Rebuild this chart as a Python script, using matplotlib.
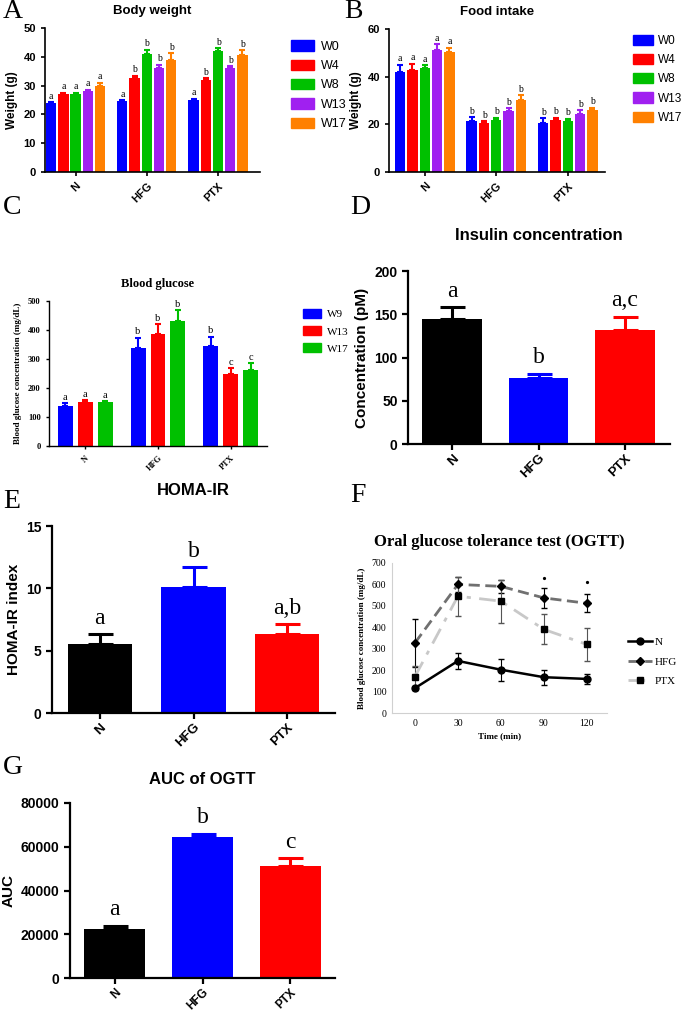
import numpy as np
import matplotlib
matplotlib.use('Agg')
import matplotlib.pyplot as plt
from matplotlib.patches import Patch
from matplotlib.lines import Line2D

SANS = 'Liberation Sans'
SERIF = 'Liberation Serif'

groups = ['N', 'HFG', 'PTX']

# A - body weight
bw_weeks = ['W0', 'W4', 'W8', 'W13', 'W17']
bw_mean = [[24, 24.5, 25], [27, 32.5, 32], [27, 41, 42], [28, 36, 36], [30, 38.8, 40.5]]
bw_err = [[0.3, 0.5, 0.5], [0.5, 1.0, 0.5], [0.5, 1.5, 1.0], [0.6, 1.3, 0.8], [1.0, 2.5, 1.8]]
bw_sig = [['a', 'a', 'a'], ['a', 'b', 'b'], ['a', 'b', 'b'], ['a', 'b', 'b'], ['a', 'b', 'b']]

# B - food intake
fi_mean = [[42, 21.5, 20.5], [43, 20.5, 22], [43.5, 22, 21.5], [51, 25.5, 24.5], [50.3, 30, 26]]
fi_err = [[3, 1.5, 2], [2.5, 0.8, 0.8], [1.2, 0.8, 0.8], [2.5, 1.3, 1.5], [1.8, 2.2, 1.0]]
fi_sig = [['a', 'b', 'b'], ['a', 'b', 'b'], ['a', 'b', 'b'], ['a', 'b', 'b'], ['a', 'b', 'b']]

# C - blood glucose
bg_weeks = ['W9', 'W13', 'W17']
bg_mean = [[138, 338, 345], [152, 385, 248], [150, 430, 262]]
bg_err = [[10, 35, 32], [5, 35, 20], [5, 38, 24]]
bg_sig = [['a', 'b', 'b'], ['a', 'b', 'c'], ['a', 'b', 'c']]

# D - insulin
ins_mean = [144, 76, 132]
ins_err = [14, 5, 15]
ins_sig = ['a', 'b', 'a,c']

# E - HOMA-IR
homa_mean = [5.5, 10.1, 6.3]
homa_err = [0.8, 1.6, 0.8]
homa_sig = ['a', 'b', 'a,b']

# F - OGTT
ogtt_time = [0, 30, 60, 90, 120]
ogtt_n = [116, 243, 202, 167, 159]
ogtt_n_err = [10, 38, 52, 35, 25]
ogtt_hfg = [327, 600, 591, 537, 512]
ogtt_hfg_err = [110, 37, 30, 45, 42]
ogtt_ptx = [170, 545, 522, 390, 320]
ogtt_ptx_err = [48, 92, 100, 70, 75]
ogtt_star_time = [90, 120]
ogtt_star_y = [628, 612]

# G - AUC
auc_mean = [22500, 64500, 51000]
auc_err = [1500, 1500, 3800]
auc_sig = ['a', 'b', 'c']

W, H = 685, 1013
fig = plt.figure(figsize=(W / 100, H / 100), dpi=100)


def box(x0, x1, y0, y1):
    # pixel box -> figure fraction
    return [x0 / W, 1 - y1 / H, (x1 - x0) / W, (y1 - y0) / H]


def style_axes(ax, lw=1.5):
    for s in ['top', 'right']:
        ax.spines[s].set_visible(False)
    for s in ['left', 'bottom']:
        ax.spines[s].set_linewidth(lw)
    ax.tick_params(width=lw, length=4)


def panel_letter(x, y, s):
    fig.text(x / W, 1 - y / H, s, fontsize=20, family=SERIF, va='center', ha='left')


def grouped(ax, means, errs, sigs, colors, width, pitch, sig_size, font, tick_size, sig_pad):
    n = len(means)
    x = np.arange(len(groups))
    for i in range(n):
        xi = x + (i - (n - 1) / 2) * pitch
        ax.bar(xi, means[i], width, color=colors[i], zorder=2)
        ax.errorbar(xi, means[i], yerr=[np.zeros(3), errs[i]], fmt='none',
                    ecolor=colors[i], elinewidth=1.5, capsize=2.5, capthick=1.5, zorder=1)
        for j in range(3):
            ax.annotate(sigs[i][j], (xi[j], means[i][j] + errs[i][j]), xytext=(0, sig_pad),
                        textcoords='offset points', ha='center', va='bottom',
                        fontsize=sig_size, family=SERIF)
    ax.set_xticks(x)
    ax.set_xticklabels(groups, rotation=45, ha='right', rotation_mode='anchor',
                       fontsize=tick_size, family=font, fontweight='bold')


def single(ax, means, errs, sigs, ylim, yticks, ylabel, title, xlim, width=0.69):
    x = np.arange(3)
    colors = ['black', '#0000ff', '#ff0000']
    ax.bar(x, means, width, color=colors, zorder=2)
    for j in range(3):
        ax.errorbar(x[j], means[j], yerr=[[0], [errs[j]]], fmt='none', ecolor=colors[j],
                    elinewidth=2.2, capsize=9, capthick=2.2, zorder=1)
        ax.annotate(sigs[j], (x[j], means[j] + errs[j]), xytext=(0, 4), textcoords='offset points',
                    ha='center', va='bottom', fontsize=17, family=SERIF)
    ax.set_xlim(*xlim)
    ax.set_ylim(*ylim)
    ax.set_yticks(yticks)
    ax.set_xticks(x)
    ax.set_xticklabels(groups, rotation=45, ha='right', rotation_mode='anchor',
                       fontsize=9.5, family=SANS, fontweight='bold')
    for t in ax.get_yticklabels():
        t.set_family(SANS)
        t.set_fontweight('bold')
        t.set_fontsize(10)
    ax.set_ylabel(ylabel, fontsize=11, family=SANS, fontweight='bold')
    ax.set_title(title, fontsize=12, family=SANS, fontweight='bold', pad=22)
    style_axes(ax, 1.6)
    ax.tick_params(axis='x', pad=2)


wk_colors = ['#0000ff', '#ff0000', '#00c000', '#a020f0', '#ff8000']

# ---- A
axA = fig.add_axes(box(45, 260, 28, 172))
grouped(axA, bw_mean, bw_err, bw_sig, wk_colors, 0.145, 0.172, 7, SANS, 8, 1)
axA.set_xlim(-0.43, 2.59)
axA.set_ylim(0, 50)
axA.set_yticks([0, 10, 20, 30, 40, 50])
for t in axA.get_yticklabels():
    t.set_family(SANS); t.set_fontweight('bold'); t.set_fontsize(8)
axA.set_ylabel('Weight (g)', fontsize=8.5, family=SANS, fontweight='bold')
axA.set_title('Body weight', fontsize=9.5, family=SANS, fontweight='bold', pad=10)
style_axes(axA, 1.2)
axA.tick_params(length=3)
fig.legend([Patch(color=c) for c in wk_colors], bw_weeks, loc='upper left',
           bbox_to_anchor=(280 / W, 1 - 29 / H), frameon=False, prop={'family': SANS, 'size': 9},
           handlelength=1.8, handleheight=0.9, labelspacing=0.55, handletextpad=0.6)
panel_letter(3, 12, 'A')

# ---- B
axB = fig.add_axes(box(389, 605, 29, 172))
grouped(axB, fi_mean, fi_err, fi_sig, wk_colors, 0.145, 0.172, 7, SANS, 8, 1)
axB.set_xlim(-0.5, 2.52)
axB.set_ylim(0, 60)
axB.set_yticks([0, 20, 40, 60])
for t in axB.get_yticklabels():
    t.set_family(SANS); t.set_fontweight('bold'); t.set_fontsize(8)
axB.set_ylabel('Weight (g)', fontsize=8.5, family=SANS, fontweight='bold')
axB.set_title('Food intake', fontsize=9.5, family=SANS, fontweight='bold', pad=10)
style_axes(axB, 1.2)
axB.tick_params(length=3)
fig.legend([Patch(color=c) for c in wk_colors], bw_weeks, loc='upper left',
           bbox_to_anchor=(628 / W, 1 - 30 / H), frameon=False, prop={'family': SANS, 'size': 8.5},
           handlelength=1.7, handleheight=0.95, labelspacing=0.6, handletextpad=0.4,
           borderaxespad=0.2, borderpad=0.2)
panel_letter(344, 12, 'B')

# ---- C
axC = fig.add_axes(box(49, 267, 301, 446))
grouped(axC, bg_mean, bg_err, bg_sig, wk_colors[:3], 0.206, 0.275, 7.5, SERIF, 6, 1)
axC.set_xlim(-0.5, 2.5)
axC.set_ylim(0, 500)
axC.set_yticks([0, 100, 200, 300, 400, 500])
for t in axC.get_yticklabels():
    t.set_family(SERIF); t.set_fontweight('bold'); t.set_fontsize(6)
axC.set_ylabel('Blood glucose concentration (mg/dL)', fontsize=6.5, family=SERIF, fontweight='bold')
axC.set_title('Blood glucose', fontsize=9, family=SERIF, fontweight='bold', pad=10)
style_axes(axC, 1.0)
axC.tick_params(length=2.5)
fig.legend([Patch(color=c) for c in wk_colors[:3]], bg_weeks, loc='upper left',
           bbox_to_anchor=(293 / W, 1 - 299 / H), frameon=False, prop={'family': SERIF, 'size': 8},
           handlelength=1.6, handleheight=0.9, labelspacing=0.6, handletextpad=0.6)
panel_letter(3, 208, 'C')

# ---- D
axD = fig.add_axes(box(408, 670, 271, 444))
single(axD, ins_mean, ins_err, ins_sig, (0, 200), [0, 50, 100, 150, 200],
       'Concentration (pM)', 'Insulin concentration', (-0.51, 2.52))
panel_letter(350, 208, 'D')

# ---- E
axE = fig.add_axes(box(52, 335, 526, 713))
single(axE, homa_mean, homa_err, homa_sig, (0, 15), [0, 5, 10, 15],
       'HOMA-IR index', 'HOMA-IR', (-0.51, 2.51), width=0.685)
panel_letter(3, 502, 'E')

# ---- F
axF = fig.add_axes(box(392, 607, 563, 713))
axF.errorbar(ogtt_time, ogtt_n, yerr=ogtt_n_err, color='black', lw=1.8, marker='o', ms=5,
             mfc='black', mec='black', ecolor='black', elinewidth=0.8, capsize=2.5, label='N')
axF.errorbar(ogtt_time, ogtt_hfg, yerr=ogtt_hfg_err, color='#707070', lw=2.0, ls=(0, (4, 2)),
             marker='D', ms=4.5, mfc='black', mec='black', ecolor='black', elinewidth=0.8,
             capsize=2.5, label='HFG')
axF.errorbar(ogtt_time, ogtt_ptx, yerr=ogtt_ptx_err, color='#c8c8c8', lw=2.0, ls=(0, (6, 3, 1.5, 3)),
             marker='s', ms=4, mfc='black', mec='black', ecolor='#555555', elinewidth=0.8,
             capsize=2.5, label='PTX')
axF.plot(ogtt_star_time, ogtt_star_y, ls='none', marker='o', ms=1.3, color='black')
axF.set_xlim(-16, 134)
axF.set_ylim(0, 700)
axF.set_yticks([0, 100, 200, 300, 400, 500, 600, 700])
axF.set_xticks(ogtt_time)
for t in axF.get_yticklabels() + axF.get_xticklabels():
    t.set_family(SERIF); t.set_fontsize(7)
axF.tick_params(length=0, pad=4)
for s in ['top', 'right']:
    axF.spines[s].set_visible(False)
for s in ['left', 'bottom']:
    axF.spines[s].set_color('#d0d0d0')
    axF.spines[s].set_linewidth(0.8)
axF.set_ylabel('Blood glucose concentration (mg/dL)', fontsize=6.5, family=SERIF, fontweight='bold')
axF.set_xlabel('Time (min)', fontsize=6.5, family=SERIF, fontweight='bold', labelpad=3)
axF.set_title('Oral glucose tolerance test (OGTT)', fontsize=12, family=SERIF, fontweight='bold', pad=12)
hN = Line2D([], [], color='black', lw=1.8, marker='o', ms=5)
hH = Line2D([], [], color='#707070', lw=2.0, ls=(0, (4, 2)), marker='D', ms=4.5, mfc='black', mec='black')
hP = Line2D([], [], color='#c8c8c8', lw=2.0, ls=(0, (6, 3, 1.5, 3)), marker='s', ms=4, mfc='black', mec='black')
fig.legend([hN, hH, hP], ['N', 'HFG', 'PTX'], loc='upper left', bbox_to_anchor=(618 / W, 1 - 627 / H),
           frameon=False, prop={'family': SERIF, 'size': 8}, handlelength=2.2,
           labelspacing=0.9, handletextpad=0.2)
panel_letter(350, 495, 'F')

# ---- G
axG = fig.add_axes(box(70, 335, 803, 978))
single(axG, auc_mean, auc_err, auc_sig, (0, 80000), [0, 20000, 40000, 60000, 80000],
       'AUC', 'AUC of OGTT', (-0.51, 2.51))
axG.set_title('AUC of OGTT', fontsize=12, family=SANS, fontweight='bold', pad=14)
axG.set_xticklabels(groups, rotation=45, ha='right', rotation_mode='anchor',
                    fontsize=8.5, family=SANS, fontweight='bold')
panel_letter(3, 767, 'G')

fig.savefig('out.png', dpi=100)
